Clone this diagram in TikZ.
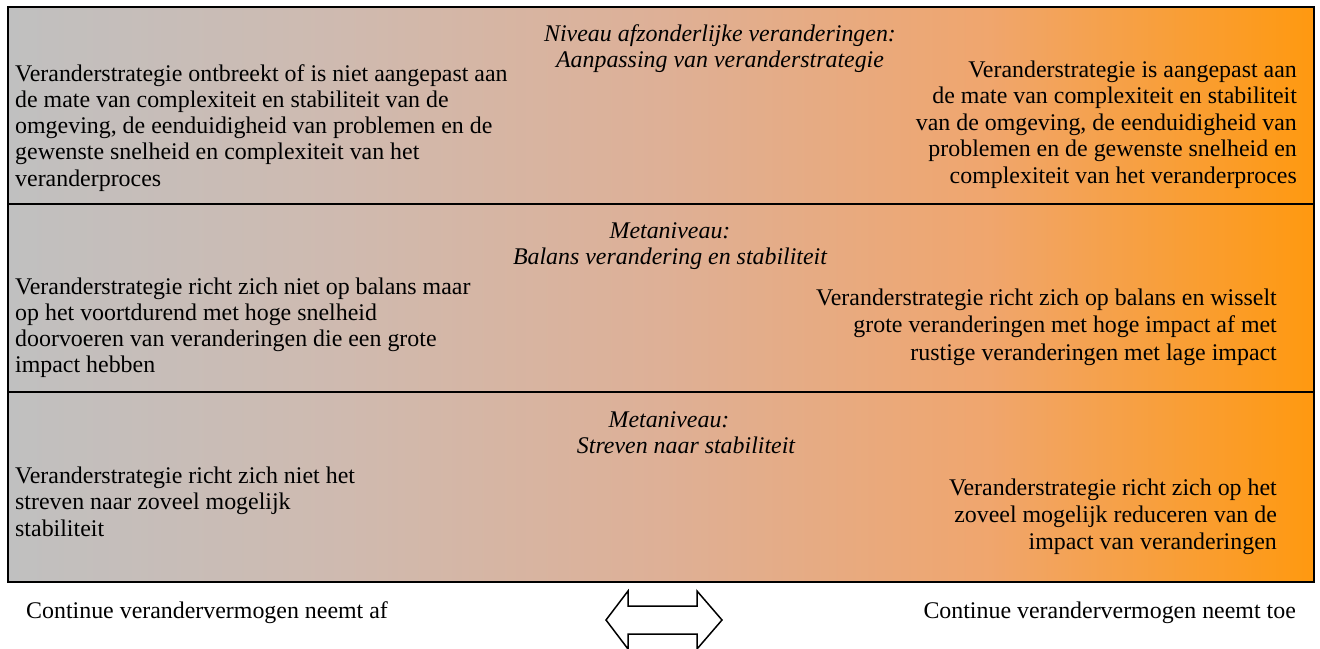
\documentclass[tikz,border=0pt]{standalone}
\usepackage{fontspec}
\setmainfont{Liberation Serif}
\pgfdeclarehorizontalshading{grayorange}{100bp}{rgb(0bp)=(0.753,0.753,0.753); rgb(25bp)=(0.753,0.753,0.753); rgb(37.5bp)=(0.81,0.73,0.69); rgb(50bp)=(0.87,0.69,0.59); rgb(62.5bp)=(0.94,0.65,0.43); rgb(75bp)=(1,0.6,0.06); rgb(100bp)=(1,0.6,0.06)}
\newcommand\leftlines[1]{\begin{tabular}[t]{@{}l@{}}#1\end{tabular}}
\newcommand\rightlines[1]{\begin{tabular}[t]{@{}r@{}}#1\end{tabular}}
\newcommand\centerlines[1]{\begin{tabular}[t]{@{}c@{}}#1\end{tabular}}
\tikzset{
  txt/.style={inner sep=0pt, font=\fontsize{23.9}{#1}\selectfont},
  txt/.default={26.3},
  head/.style={inner sep=0pt, anchor=base, font=\fontsize{23.9}{26}\selectfont\itshape},
  frame/.style={line width=2pt},
  blockarrow/.style={line width=1.5pt, fill=white, line join=miter}
}
\begin{document}
\begin{tikzpicture}[x=1pt,y=-1pt]
\useasboundingbox (0,0) rectangle (1320,648);
\shade[shading=grayorange] (8,7) rectangle (1314,582);
\draw[frame] (8,7) rectangle (1314,582);
\draw[frame] (8,204) -- (1314,204);
\draw[frame] (8,392) -- (1314,392);

% row 1
\node[head] (h1) at (720,41) {\centerlines{Niveau afzonderlijke veranderingen:\\Aanpassing van veranderstrategie}};
\node[txt, anchor=base west] (l1) at (15,81) {\leftlines{Veranderstrategie ontbreekt of is niet aangepast aan\\de mate van complexiteit en stabiliteit van de\\omgeving, de eenduidigheid van problemen en de\\gewenste snelheid en complexiteit van het\\veranderproces}};
\node[txt=26.5, anchor=base east] (r1) at (1297,77) {\rightlines{Veranderstrategie is aangepast aan\\de mate van complexiteit en stabiliteit\\van de omgeving, de eenduidigheid van\\problemen en de gewenste snelheid en\\complexiteit van het veranderproces}};

% row 2
\node[head] (h2) at (670,238) {\centerlines{Metaniveau:\\Balans verandering en stabiliteit}};
\node[txt, anchor=base west] (l2) at (15,294) {\leftlines{Veranderstrategie richt zich niet op balans maar\\op het voortdurend met hoge snelheid\\doorvoeren van veranderingen die een grote\\impact hebben}};
\node[txt=27.5, anchor=base east] (r2) at (1277,305) {\rightlines{Veranderstrategie richt zich op balans en wisselt\\grote veranderingen met hoge impact af met\\rustige veranderingen met lage impact}};

% row 3
\node[head] (h3) at (686,427) {\centerlines{Metaniveau:\hspace*{34pt}\\Streven naar stabiliteit}};
\node[txt=26.5, anchor=base west] (l3) at (15,483) {\leftlines{Veranderstrategie richt zich niet het\\streven naar zoveel mogelijk\\stabiliteit}};
\node[txt=27, anchor=base east] (r3) at (1277,495) {\rightlines{Veranderstrategie richt zich op het\\zoveel mogelijk reduceren van de\\impact van veranderingen}};

% bottom
\node[txt, anchor=base west] (bl) at (26,618) {Continue verandervermogen neemt af};
\node[txt, anchor=base east] (br) at (1296,618) {Continue verandervermogen neemt toe};
\draw[blockarrow] (606,620) -- (628,591) -- (628,606) -- (697,606) -- (697,591) -- (722,620) -- (697,649) -- (697,634) -- (628,634) -- (628,649) -- cycle;
\end{tikzpicture}
\end{document}
